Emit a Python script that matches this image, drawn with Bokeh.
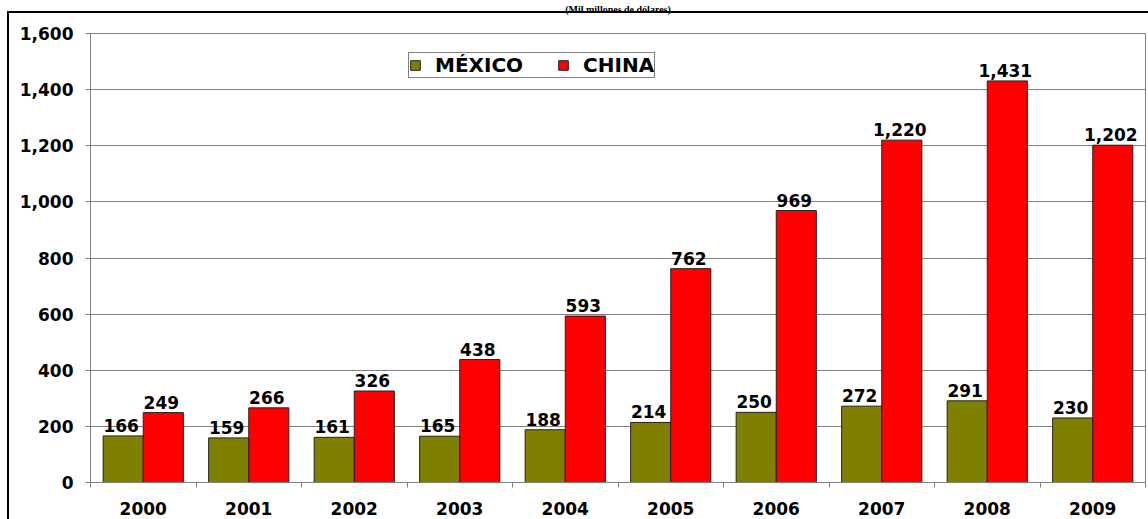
from bokeh.plotting import figure
from bokeh.models import (ColumnDataSource, FixedTicker, NumeralTickFormatter,
                          Legend, LegendItem, Range1d, LinearAxis)
from bokeh.core.properties import value
from bokeh.embed import file_html
from bokeh.resources import INLINE

# ---- data ----
years = ["2000", "2001", "2002", "2003", "2004", "2005", "2006", "2007", "2008", "2009"]
mexico = [166, 159, 161, 165, 188, 214, 250, 272, 291, 230]
china = [249, 266, 326, 438, 593, 762, 969, 1220, 1431, 1202]
series_names = ["MÉXICO", "CHINA"]
title_text = "(Mil millones de dólares)"
y_ticks = [0, 200, 400, 600, 800, 1000, 1200, 1400, 1600]

OLIVE = "#808000"
RED = "#FF0000"
GRAY = "#808080"
FONT = "DejaVu Sans"

W, H = 1148, 519
p = figure(width=W, height=H, output_backend="svg", toolbar_location=None,
           x_range=Range1d(0, len(years)), y_range=Range1d(0, 1600),
           min_border_left=90, min_border_right=3, min_border_top=31, min_border_bottom=37)
p.background_fill_color = "white"
p.border_fill_color = None
p.outline_line_color = GRAY
p.outline_line_width = 1
# outer black chart frame (left and top edges visible; the rest lies beyond the view)
p.styles = {
    "background-color": "white",
    "background-image": "linear-gradient(black, black), linear-gradient(black, black)",
    "background-size": "2px 100%, 100% 2px",
    "background-position": "7px 11px, 7px 11px",
    "background-repeat": "no-repeat",
}

# title: carried by a bare axis above the plot so it sits in the strip over the outer frame
title_axis = LinearAxis(ticker=FixedTicker(ticks=[]), axis_label=title_text,
                        axis_line_color=None, major_tick_out=0, major_tick_in=0,
                        minor_tick_out=0, minor_tick_in=0, major_label_standoff=0,
                        axis_label_standoff=19)
title_axis.axis_label_text_font = "Liberation Serif"
title_axis.axis_label_text_font_style = "bold"
title_axis.axis_label_text_font_size = "10px"
title_axis.axis_label_text_color = "black"
p.add_layout(title_axis, "above")

centers = [i + 0.5 for i in range(len(years))]
off = 0.19
bw = 0.38
src = ColumnDataSource(dict(
    xm=[c - off for c in centers], xc=[c + off for c in centers],
    mexico=mexico, china=china,
    lm=[f"{v:,}" for v in mexico], lc=[f"{v:,}" for v in china],
))

r_m = p.vbar(x="xm", top="mexico", width=bw, source=src, fill_color=OLIVE,
             line_color="#202020", line_width=1)
r_c = p.vbar(x="xc", top="china", width=bw, source=src, fill_color=RED,
             line_color="#202020", line_width=1)

for xcol, ycol, lcol in (("xm", "mexico", "lm"), ("xc", "china", "lc")):
    p.text(x=xcol, y=ycol, text=lcol, source=src, text_align="center",
           text_baseline="bottom", y_offset=-4, x_offset=-2,
           text_font=value(FONT), text_font_style="bold", text_font_size="17px",
           text_color="black")

# axes
p.below[0].ticker = FixedTicker(ticks=centers, minor_ticks=list(range(len(years) + 1)))
xa = p.below[0]
xa.major_label_overrides = {c: y for c, y in zip(centers, years)}
xa.major_tick_line_color = None
xa.major_tick_out = 0
xa.major_tick_in = 0
xa.minor_tick_line_color = GRAY
xa.minor_tick_out = 5
xa.minor_tick_in = 0
xa.axis_line_color = GRAY
xa.major_label_standoff = 14

ya = p.left[0]
ya.ticker = FixedTicker(ticks=y_ticks, minor_ticks=[])
ya.formatter = NumeralTickFormatter(format="0,0")
ya.major_tick_line_color = GRAY
ya.major_tick_out = 5
ya.major_tick_in = 0
ya.axis_line_color = GRAY
ya.major_label_standoff = 12

for ax in (xa, ya):
    ax.major_label_text_font = FONT
    ax.major_label_text_font_style = "bold"
    ax.major_label_text_font_size = "17px"
    ax.major_label_text_color = "black"

p.xgrid.grid_line_color = None
p.ygrid.grid_line_color = GRAY
p.ygrid.grid_line_width = 1

legend = Legend(items=[LegendItem(label=series_names[0], renderers=[r_m]),
                       LegendItem(label=series_names[1], renderers=[r_c])],
                orientation="horizontal", location=(318, 404))
legend.border_line_color = "black"
legend.border_line_width = 1
legend.background_fill_alpha = 1
legend.label_text_font = FONT
legend.label_text_font_style = "bold"
legend.label_text_font_size = "20px"
legend.label_text_color = "black"
legend.glyph_width = 12
legend.glyph_height = 12
legend.label_standoff = 14
legend.spacing = 34
legend.padding = 0
legend.margin = 0
legend.label_height = 16
p.add_layout(legend, "center")

open("out.html", "w").write(file_html(p, INLINE))
